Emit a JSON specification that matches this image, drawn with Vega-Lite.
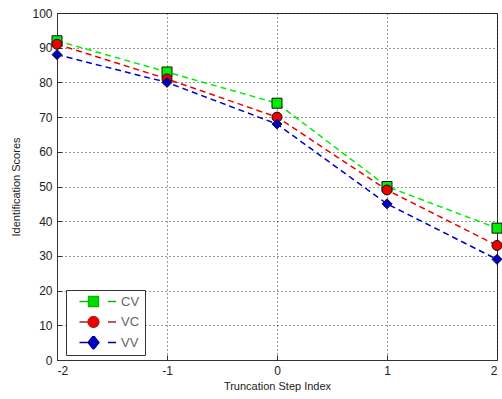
{
  "$schema": "https://vega.github.io/schema/vega-lite/v6.json",
  "width": 440,
  "height": 347,
  "autosize": "none",
  "padding": {"left": 57, "top": 13, "right": 5, "bottom": 39},
  "background": "white",
  "config": {
    "font": "Liberation Sans",
    "view": {"stroke": "#333333", "strokeWidth": 1}
  },
  "data": {
    "values": [
      {"step": -2, "score": 92, "series": "CV"},
      {"step": -1, "score": 83, "series": "CV"},
      {"step": 0, "score": 74, "series": "CV"},
      {"step": 1, "score": 50, "series": "CV"},
      {"step": 2, "score": 38, "series": "CV"},
      {"step": -2, "score": 91, "series": "VC"},
      {"step": -1, "score": 81, "series": "VC"},
      {"step": 0, "score": 70, "series": "VC"},
      {"step": 1, "score": 49, "series": "VC"},
      {"step": 2, "score": 33, "series": "VC"},
      {"step": -2, "score": 88, "series": "VV"},
      {"step": -1, "score": 80, "series": "VV"},
      {"step": 0, "score": 68, "series": "VV"},
      {"step": 1, "score": 45, "series": "VV"},
      {"step": 2, "score": 29, "series": "VV"}
    ]
  },
  "encoding": {
    "x": {
      "field": "step", "type": "quantitative",
      "scale": {"domain": [-2, 2], "nice": false, "zero": false},
      "axis": {
        "title": "Truncation Step Index",
        "values": [-2, -1, 0, 1, 2],
        "labelExpr": "'' + datum.value",
        "grid": true, "gridColor": "#000000", "gridDash": [1, 3], "gridOpacity": 0.8,
        "domainColor": "#333333", "tickColor": "#333333", "tickSize": -5,
        "labelFontSize": 12, "labelColor": "#222222", "labelPadding": 10,
        "titleFontSize": 11, "titleFontWeight": "normal", "titleColor": "#222222", "titlePadding": 4
      }
    },
    "y": {
      "field": "score", "type": "quantitative",
      "scale": {"domain": [0, 100], "nice": false},
      "axis": {
        "title": "Identification Scores",
        "values": [0, 10, 20, 30, 40, 50, 60, 70, 80, 90, 100],
        "grid": true, "gridColor": "#000000", "gridDash": [1, 3], "gridOpacity": 0.8,
        "domainColor": "#333333", "tickColor": "#333333", "tickSize": -5,
        "labelFontSize": 12, "labelColor": "#222222", "labelPadding": 10,
        "titleFontSize": 11, "titleFontWeight": "normal", "titleColor": "#222222", "titlePadding": 10
      }
    }
  },
  "resolve": {"scale": {"color": "independent", "shape": "independent", "stroke": "independent"}},
  "layer": [
    {
      "mark": {"type": "line", "strokeDash": [6, 4], "strokeWidth": 1.5},
      "encoding": {
        "color": {
          "field": "series", "type": "nominal",
          "scale": {"domain": ["CV", "VC", "VV"], "range": ["#00ee00", "#ee0000", "#0000cc"]},
          "legend": null
        }
      }
    },
    {
      "mark": {"type": "point", "filled": true, "size": 100, "stroke": "#111111", "strokeWidth": 1, "opacity": 1},
      "encoding": {
        "color": {
          "field": "series", "type": "nominal",
          "scale": {"domain": ["CV", "VC", "VV"], "range": ["#00ee00", "#ee0000", "#0000cc"]},
          "legend": null
        },
        "shape": {
          "field": "series", "type": "nominal",
          "scale": {"domain": ["CV", "VC", "VV"], "range": ["square", "circle", "diamond"]},
          "legend": null
        }
      }
    },
    {
      "transform": [{"filter": "false"}],
      "mark": {"type": "point", "filled": true, "size": 100, "strokeWidth": 1.3, "opacity": 1},
      "encoding": {
        "color": {
          "field": "series", "type": "nominal",
          "scale": {"domain": ["CV", "VC", "VV"], "range": ["#00dd00", "#ee0000", "#0000cc"]},
          "legend": {
            "title": null, "orient": "none", "legendX": 9, "legendY": 277,
            "strokeColor": "#333333", "fillColor": "white", "padding": 5,
            "labelFontSize": 13, "labelColor": "#666666", "symbolSize": 100,
            "symbolOffset": 16, "labelOffset": 21, "rowPadding": 6.5, "clipHeight": 13,
            "symbolStrokeWidth": 1.3
          }
        },
        "stroke": {
          "field": "series", "type": "nominal",
          "scale": {"domain": ["CV", "VC", "VV"], "range": ["#00bb00", "#aa2222", "#000099"]},
          "legend": {
            "title": null, "orient": "none", "legendX": 9, "legendY": 277,
            "strokeColor": "#333333", "fillColor": "white", "padding": 5,
            "labelFontSize": 13, "labelColor": "#666666", "symbolSize": 100,
            "symbolOffset": 16, "labelOffset": 21, "rowPadding": 6.5, "clipHeight": 13,
            "symbolStrokeWidth": 1.3
          }
        },
        "shape": {
          "field": "series", "type": "nominal",
          "scale": {"domain": ["CV", "VC", "VV"], "range": ["M-2.8,0H-1M-1,-1H1V1H-1ZM2.9,0H4.5", "M-2.8,0H-1.1M-1.1,0A1.1,1.1,0,1,0,1.1,0A1.1,1.1,0,1,0,-1.1,0ZM2.9,0H4.5", "M-2.8,0H-1.1M-1.1,0L0,-1.4L1.1,0L0,1.4ZM2.9,0H4.5"]},
          "legend": {
            "title": null, "orient": "none", "legendX": 9, "legendY": 277,
            "strokeColor": "#333333", "fillColor": "white", "padding": 5,
            "labelFontSize": 13, "labelColor": "#666666", "symbolSize": 100,
            "symbolOffset": 16, "labelOffset": 21, "rowPadding": 6.5, "clipHeight": 13,
            "symbolStrokeWidth": 1.3
          }
        }
      }
    }
  ]
}
